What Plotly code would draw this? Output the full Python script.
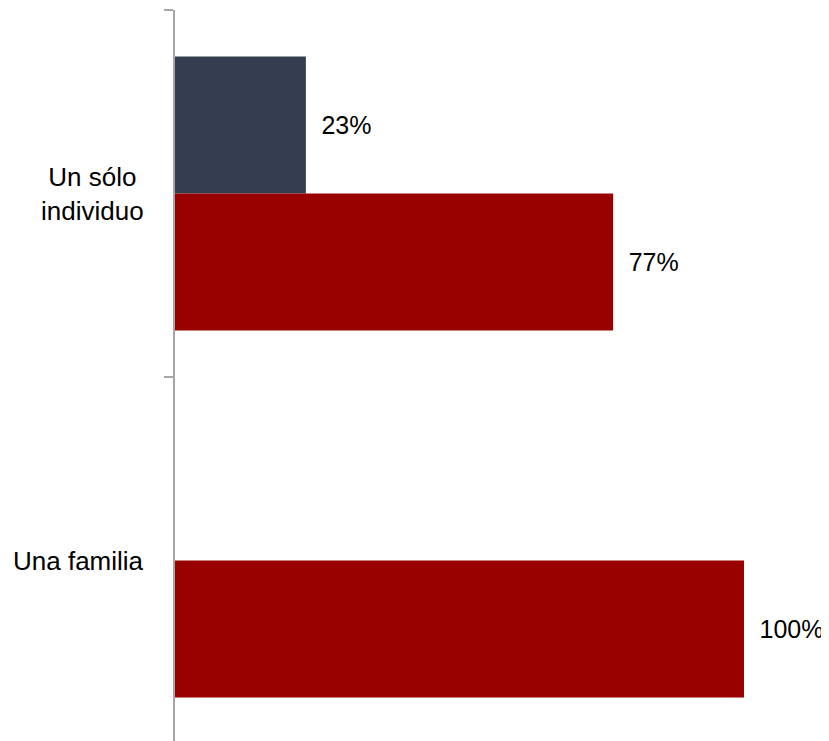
import plotly.graph_objects as go

categories = ["Un sólo individuo", "Una familia"]
cat_labels = ["Un sólo<br>individuo", "Una familia"]
series_a = [23, None]
series_b = [77, 100]
color_a = "#343E50"
color_b = "#990000"

FONT = "Liberation Sans, Arial, sans-serif"
FS = 26

fig = go.Figure()
for vals, col in [(series_a, color_a), (series_b, color_b)]:
    fig.add_trace(go.Bar(
        y=categories, x=vals, orientation="h",
        marker=dict(color=col, line=dict(width=0)),
        text=[("&#8194;%d%%" % v) if v is not None else "" for v in vals],
        textposition="outside", cliponaxis=False, constraintext="none",
        textfont=dict(family=FONT, size=25, color="#000000"),
        showlegend=False, hoverinfo="skip",
    ))

for cat, lab in zip(categories, cat_labels):
    fig.add_annotation(
        x=0, xref="paper", y=cat, yref="y", text=lab, showarrow=False,
        xanchor="right", yanchor="middle", align="center", xshift=-29,
        font=dict(family=FONT, size=FS, color="#000000"),
    )

fig.update_layout(
    width=821, height=733,
    margin=dict(l=167, r=14, t=2, b=0),
    paper_bgcolor="white", plot_bgcolor="white",
    barmode="group", bargap=0.253, bargroupgap=0,
    font=dict(family=FONT),
)
fig.update_xaxes(range=[0, 112.48], visible=False)
fig.update_yaxes(
    type="category", categoryorder="array", categoryarray=categories,
    range=[1.4918, -0.5], showticklabels=False, showgrid=False, zeroline=False,
    showline=True, linecolor="#A6A6A6", linewidth=1.5,
    ticks="outside", tickson="boundaries", ticklen=9, tickcolor="#A6A6A6", tickwidth=1.5,
)

fig.write_html("out.html")
